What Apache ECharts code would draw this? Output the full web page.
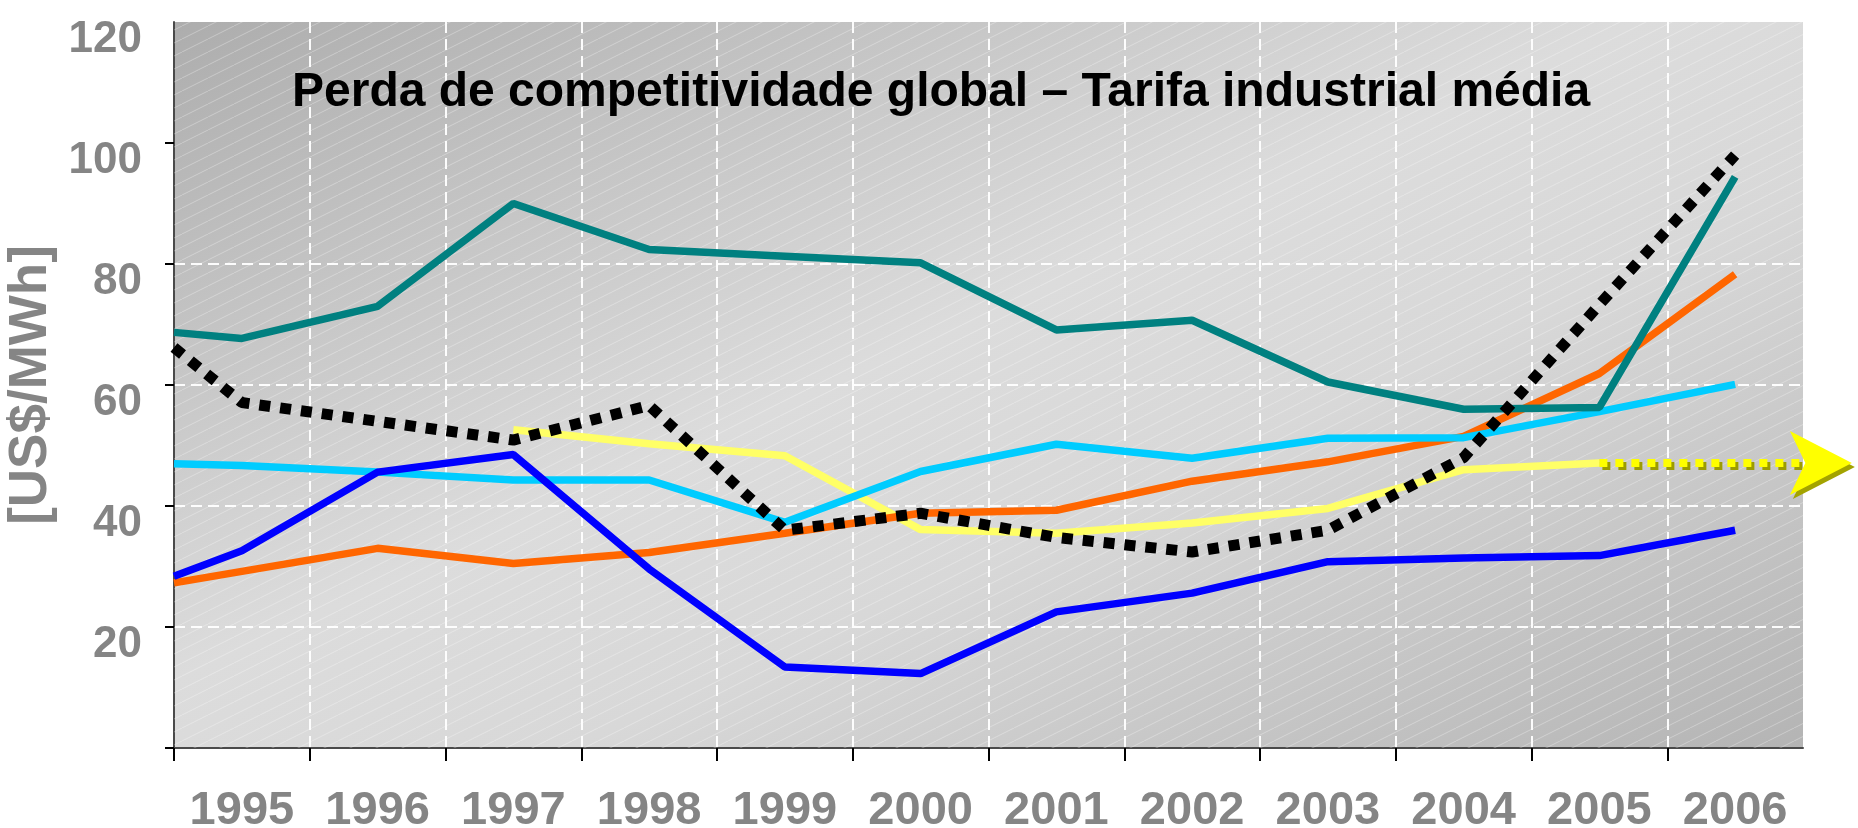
<!DOCTYPE html>
<html>
<head>
<meta charset="utf-8">
<script src="https://cdn.jsdelivr.net/npm/echarts@6/dist/echarts.min.js"></script>
<style>
  html, body { margin: 0; background: #ffffff; }
  #chart { width: 1858px; height: 828px; }
</style>
</head>
<body>
<div id="chart"></div>
<script>
// categories: the years; each series also has a first value where it meets the left axis
const years = [1995, 1996, 1997, 1998, 1999, 2000, 2001, 2002, 2003, 2004, 2005, 2006]
const axisStartYear = 1994.5
const axisEndYear = 2006.5

const tealValues = [68.7, 67.7, 73.0, 90.0, 82.4, 81.3, 80.2, 69.1, 70.7, 60.5, 56.0, 56.3, 94.4]
const blackValues = [66.2, 57.1, 54.0, 50.9, 56.6, 36.0, 38.8, 34.8, 32.4, 36.0, 48.0, 73.3, 98.0]
const cyanValues = [47.0, 46.7, 45.6, 44.3, 44.3, 37.3, 45.7, 50.2, 47.9, 51.2, 51.3, 55.6, 60.1]
const blueValues = [28.4, 32.6, 45.6, 48.5, 29.6, 13.4, 12.3, 22.5, 25.6, 30.8, 31.4, 31.8, 36.0]
const orangeValues = [27.3, 29.2, 33.0, 30.5, 32.3, 35.5, 38.8, 39.3, 44.1, 47.3, 51.5, 61.9, 78.3]
const yellowValues = [null, null, null, 52.6, 50.3, 48.3, 36.1, 35.5, 37.2, 39.6, 46.0, 47.1, null]

// dotted projection of the yellow series, ending in the arrow outside the plot
const projectionYears = [2005, 2006.86]
const projectionValues = [47.1, 47.1]

const yTicks = [0, 20, 40, 60, 80, 100]
const titleText = 'Perda de competitividade global – Tarifa industrial média'
const yAxisTitle = '[US$/MWh]'

const FONT = "'Liberation Sans', Arial, Helvetica, sans-serif"

const xPositions = [axisStartYear, ...years].map((year) => year - axisStartYear)
const toPairs = (values) => values.map((value, i) => [xPositions[i], value])

const grayText = {
  color: '#858585',
  fontSize: 47,
  fontWeight: 'bold',
  fontFamily: FONT,
  textShadowColor: '#b8b8b8',
  textShadowOffsetX: 3,
  textShadowOffsetY: 3,
  textShadowBlur: 0,
}

const gridDash = { color: 'rgba(255,255,255,0.95)', width: 2, type: [11, 6] }

function solidLine(name, values, color, z) {
  return {
    name,
    type: 'line',
    data: toPairs(values),
    symbol: 'none',
    silent: true,
    animation: false,
    connectNulls: false,
    lineStyle: { color, width: 7.5 },
    z,
  }
}

function hatchTile() {
  const canvas = document.createElement('canvas')
  canvas.width = 26
  canvas.height = 13
  const ctx = canvas.getContext('2d')
  ctx.strokeStyle = 'rgba(255,255,255,0.3)'
  ctx.lineWidth = 1
  ctx.beginPath()
  ctx.moveTo(-2, 14)
  ctx.lineTo(28, -1)
  ctx.stroke()
  return canvas
}

const chart = echarts.init(document.getElementById('chart'), null, { renderer: 'canvas' })

chart.setOption({
  backgroundColor: '#ffffff',
  animation: false,
  title: {
    text: titleText,
    left: 287,
    top: 64,
    textStyle: {
      color: '#000000',
      fontSize: 48,
      fontWeight: 'bold',
      fontFamily: FONT,
      textShadowColor: '#9a9a9a',
      textShadowOffsetX: 3,
      textShadowOffsetY: 3,
      textShadowBlur: 0,
    },
  },
  grid: {
    left: 174,
    right: 55,
    top: 22,
    bottom: 80,
    containLabel: false,
    outerBoundsMode: 'none',
    show: true,
    borderWidth: 0,
    backgroundColor: new echarts.graphic.LinearGradient(0.333, -0.335, 0.667, 1.335, [
      { offset: 0, color: '#adadad' },
      { offset: 0.45, color: '#dcdcdc' },
      { offset: 0.62, color: '#d8d8d8' },
      { offset: 1, color: '#b4b4b4' },
    ]),
  },
  xAxis: {
    type: 'value',
    min: 0,
    max: axisEndYear - axisStartYear,
    interval: 1,
    axisLine: { show: true, lineStyle: { color: '#4a4a4a', width: 2 } },
    axisTick: {
      show: true,
      length: 13,
      lineStyle: { color: '#000000', width: 2 },
      customValues: years.map((year) => year - 0.5 - axisStartYear),
    },
    axisLabel: {
      ...grayText,
      margin: 40,
      customValues: years.map((year) => year - axisStartYear),
      formatter: (value) => String(Math.round(value + axisStartYear)),
    },
    splitLine: { show: true, lineStyle: gridDash },
  },
  yAxis: {
    type: 'value',
    min: 0,
    max: 120,
    interval: 20,
    name: yAxisTitle,
    nameLocation: 'middle',
    nameRotate: 90,
    nameGap: 103,
    nameTextStyle: { ...grayText, fontSize: 53 },
    axisLine: { show: true, lineStyle: { color: '#4a4a4a', width: 2 } },
    axisTick: { show: true, length: 9, lineStyle: { color: '#000000', width: 2 }, customValues: yTicks },
    axisLabel: {
      ...grayText,
      fontSize: 44,
      margin: 32,
      verticalAlign: 'top',
      lineHeight: 36,
      formatter: (value) => (value === 0 ? '' : String(value)),
    },
    splitLine: { show: true, showMinLine: false, showMaxLine: false, lineStyle: gridDash },
  },
  series: [
    solidLine('Amarelo', yellowValues, '#ffff66', 3),
    solidLine('Laranja', orangeValues, '#ff6600', 4),
    solidLine('Azul claro', cyanValues, '#00ccff', 5),
    solidLine('Azul', blueValues, '#0000ff', 6),
    solidLine('Verde', tealValues, '#008080', 7),
    {
      name: 'Média',
      type: 'line',
      data: toPairs(blackValues),
      symbol: 'none',
      silent: true,
      animation: false,
      lineStyle: { color: '#000000', width: 11, type: [11, 10], cap: 'butt' },
      z: 8,
    },
    {
      name: 'Projeção',
      type: 'line',
      clip: false,
      silent: true,
      animation: false,
      symbol: 'none',
      showSymbol: true,
      data: projectionYears.map((year, i) => {
        const point = [year - axisStartYear, projectionValues[i]]
        if (i < projectionYears.length - 1) return point
        return {
          value: point,
          symbol: 'arrow',
          symbolSize: [48, 62],
          symbolRotate: -90,
          itemStyle: {
            color: '#ffff00',
            shadowColor: '#a3a300',
            shadowOffsetX: 3,
            shadowOffsetY: 4,
            shadowBlur: 0,
          },
        }
      }),
      lineStyle: {
        color: '#ffff00',
        width: 8,
        type: [8, 8],
        cap: 'butt',
        shadowColor: '#9c9c00',
        shadowOffsetX: 3,
        shadowOffsetY: 3,
        shadowBlur: 0,
      },
      z: 9,
    },
  ],
})

// thin diagonal hatch over the plot background
const topLeft = chart.convertToPixel({ gridIndex: 0 }, [0, 120])
const bottomRight = chart.convertToPixel({ gridIndex: 0 }, [axisEndYear - axisStartYear, 0])
chart.setOption({
  graphic: [
    {
      type: 'rect',
      silent: true,
      z: 1,
      shape: {
        x: topLeft[0],
        y: topLeft[1],
        width: bottomRight[0] - topLeft[0],
        height: bottomRight[1] - topLeft[1],
      },
      style: { fill: { image: hatchTile(), repeat: 'repeat' } },
    },
  ],
})
</script>
</body>
</html>
